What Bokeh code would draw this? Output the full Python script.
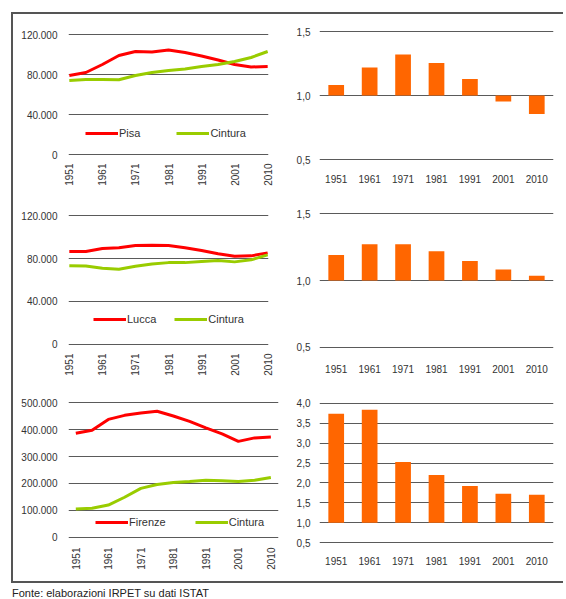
import math
from bokeh.plotting import figure
from bokeh.models import Range1d, FactorRange, FixedTicker, Legend, LegendItem, Div
from bokeh.layouts import column, row
from bokeh.embed import file_html
from bokeh.resources import INLINE

# ---------------- data ----------------
tick_years = ["1951", "1961", "1971", "1981", "1991", "2001", "2010"]

pisa = [79000, 82000, 90000, 99000, 103000, 102500, 104500, 102000, 98500, 94500, 90000, 87500, 88000]
pisa_cintura = [74000, 75000, 75000, 74700, 79000, 82000, 84000, 85500, 88000, 90000, 93000, 97000, 103000]

lucca = [86500, 86500, 89400, 90000, 92200, 92500, 92200, 90000, 87500, 84400, 82200, 82500, 85300]
lucca_cintura = [73400, 73100, 71000, 70000, 72800, 75000, 76200, 76200, 77200, 78100, 76900, 78800, 83400]

firenze = [386000, 397500, 437500, 452500, 461000, 467500, 450000, 430000, 406000, 384000, 356000, 369000, 372500]
firenze_cintura = [105500, 108000, 120000, 149000, 182000, 196000, 204000, 207000, 212000, 210000, 207000, 212000, 222000]

ratio_pisa = [1.082, 1.218, 1.32, 1.254, 1.128, 0.954, 0.856]
ratio_lucca = [1.19, 1.27, 1.27, 1.218, 1.145, 1.083, 1.035]
ratio_firenze = [3.74, 3.84, 2.53, 2.20, 1.925, 1.725, 1.70]

small_ticks = [0, 40000, 80000, 120000]
small_labels = ["0", "40.000", "80.000", "120.000"]
big_ticks = [0, 100000, 200000, 300000, 400000, 500000]
big_labels = ["0", "100.000", "200.000", "300.000", "400.000", "500.000"]
ratio_ticks_small = [0.5, 1.0, 1.5]
ratio_labels_small = ["0,5", "1,0", "1,5"]
ratio_ticks_big = [0.5, 1.0, 1.5, 2.0, 2.5, 3.0, 3.5, 4.0]
ratio_labels_big = ["0,5", "1,0", "1,5", "2,0", "2,5", "3,0", "3,5", "4,0"]

# ---------------- styles ----------------
FONT = "Liberation Sans"
RED = "#FF0000"
GREEN = "#99CC00"
ORANGE = "#FF6600"
GRID = "#5a5a5a"
TXT = "#333333"
FRAME = "#555555"


def base_fig(w, h, bl, br, bt, bb, x_range, y_range):
    p = figure(width=w, height=h, output_backend="svg", toolbar_location=None,
               x_range=x_range, y_range=y_range,
               min_border_left=bl, min_border_right=br,
               min_border_top=bt, min_border_bottom=bb, margin=0,
               frame_align=False)
    p.outline_line_color = None
    p.background_fill_color = "white"
    p.border_fill_color = "white"
    p.xgrid.visible = False
    p.ygrid.grid_line_color = GRID
    p.ygrid.grid_line_width = 1
    for ax in (p.xaxis[0], p.yaxis[0]):
        ax.axis_line_color = None
        ax.major_tick_line_color = None
        ax.minor_tick_line_color = None
        ax.major_tick_out = 0
        ax.major_tick_in = 0
        ax.minor_tick_out = 0
        ax.minor_tick_in = 0
        ax.major_label_text_font = FONT
        ax.major_label_text_font_size = "10px"
        ax.major_label_text_color = TXT
    return p


def line_panel(w, h, bl, br, bt, bb, xr, yr, ticks, labels, a, b, name,
               leg_loc, leg_spacing, xstand):
    p = base_fig(w, h, bl, br, bt, bb, xr, yr)
    xs = list(range(len(a)))
    ra = p.line(xs, a, line_color=RED, line_width=3)
    rb = p.line(xs, b, line_color=GREEN, line_width=3)
    p.yaxis[0].ticker = FixedTicker(ticks=ticks)
    p.yaxis[0].major_label_overrides = {t: l for t, l in zip(ticks, labels)}
    p.yaxis[0].major_label_standoff = 11
    xt = xs[::2]
    p.xaxis[0].ticker = FixedTicker(ticks=xt)
    p.xaxis[0].major_label_overrides = {t: l for t, l in zip(xt, tick_years)}
    p.xaxis[0].major_label_orientation = math.pi / 2
    p.xaxis[0].major_label_standoff = xstand
    leg = Legend(items=[LegendItem(label=name, renderers=[ra]),
                        LegendItem(label="Cintura", renderers=[rb])],
                 location=leg_loc, orientation="horizontal",
                 glyph_width=33, glyph_height=14, label_height=14,
                 label_standoff=1, spacing=leg_spacing, padding=0, margin=0,
                 border_line_color=None, background_fill_alpha=0,
                 label_text_font=FONT, label_text_font_size="11px",
                 label_text_color=TXT)
    p.add_layout(leg)
    return p


def bar_panel(w, h, bl, br, bt, bb, yr, ticks, labels, vals, xstand):
    p = base_fig(w, h, bl, br, bt, bb, FactorRange(*tick_years, range_padding=0), yr)
    p.vbar(x=tick_years, top=vals, bottom=1.0, width=0.47,
           fill_color=ORANGE, line_color=None)
    p.yaxis[0].ticker = FixedTicker(ticks=ticks)
    p.yaxis[0].major_label_overrides = {t: l for t, l in zip(ticks, labels)}
    p.yaxis[0].major_label_standoff = 9
    p.xaxis[0].major_label_standoff = xstand
    return p


p1 = line_panel(280, 183, 55, 25, 18, 41, Range1d(-0.05, 12.05), Range1d(-2000, 122000),
                small_ticks, small_labels, pisa, pisa_cintura, "Pisa", (17, 16), 36, 7)
p2 = bar_panel(270, 183, 24, 10, 15, 36, Range1d(0.484375, 1.515625),
               ratio_ticks_small, ratio_labels_small, ratio_pisa, 13)

p3 = line_panel(280, 184, 55, 25, 16, 35, Range1d(-0.05, 12.05), Range1d(-2000, 122000),
                small_ticks, small_labels, lucca, lucca_cintura, "Lucca", (25, 20), 18, 7)
p4 = bar_panel(270, 184, 24, 10, 14, 32, Range1d(0.484375, 1.515625),
               ratio_ticks_small, ratio_labels_small, ratio_lucca, 15)

p5 = line_panel(280, 200, 55, 15, 19, 42, Range1d(-0.45, 12.47), Range1d(-7500, 507500),
                big_ticks, big_labels, firenze, firenze_cintura, "Firenze", (27, 10), 29, 8)
p6 = bar_panel(270, 200, 24, 10, 20, 37, Range1d(0.45, 4.05),
               ratio_ticks_big, ratio_labels_big, ratio_firenze, 12)

grid = column(row(p1, p2, spacing=0, margin=0),
              row(p3, p4, spacing=0, margin=0),
              row(p5, p6, spacing=0, margin=0),
              spacing=0, margin=0)

top_line = Div(text="", width=552, height=2, margin=(12, 0, 0, 11),
               styles={"background-color": FRAME})
left_line = Div(text="", width=2, height=567, margin=0,
                styles={"background-color": FRAME})
body = row(left_line, grid, spacing=0, margin=(0, 0, 0, 11))
bottom_line = Div(text="", width=552, height=2, margin=(0, 0, 0, 11),
                  styles={"background-color": FRAME})

footer = Div(text="Fonte: elaborazioni IRPET su dati ISTAT", margin=(4, 0, 0, 12),
             height=12,
             styles={"font-family": FONT, "font-size": "11px", "color": "#222222",
                     "line-height": "12px"})

layout = column(top_line, body, bottom_line, footer, spacing=0, margin=0)

open("out.html", "w").write(file_html(layout, INLINE))
